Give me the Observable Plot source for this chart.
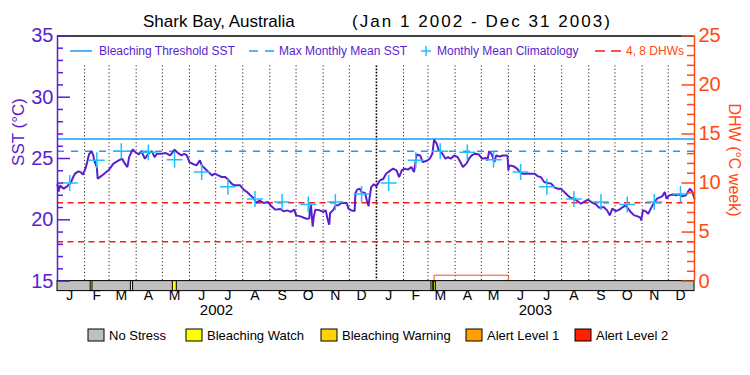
<!DOCTYPE html>
<html><head><meta charset="utf-8">
<script src="https://cdn.jsdelivr.net/npm/d3@7"></script>
<script src="https://cdn.jsdelivr.net/npm/@observablehq/plot@0.6"></script>
<style>body{margin:0;background:#fff} svg{display:block}</style>
</head><body><div id="chart"></div>
<script>
// ---------------- data ----------------
const titleText = "Shark Bay, Australia";
const periodText = "(Jan 1 2002 - Dec 31 2003)";
const sstAxisLabel = "SST (°C)";
const dhwAxisLabel = "DHW (°C week)";
const monthLetters = ["J","F","M","A","M","J","J","A","S","O","N","D"];
const years = ["2002", "2003"];
const climatology = [23.0, 24.85, 25.6, 25.5, 24.9, 23.9, 22.7, 21.7, 21.45, 21.25, 21.45, 22.1];
const bleachingThreshold = 26.6;
const maxMonthlyMean = 25.6;
const dhwLevels = [4, 8];
const sstTickValues = [15, 20, 25, 30, 35];
const dhwTickValues = [0, 5, 10, 15, 20, 25];
// SST series: day offset from Jan 1 2002, value in °C
const sstDay = [0,1,3,7,11,15,18,20,24,27,29,32,34,36,39,41,42,45,46,51,59,64,70,74,76,80,82,86,89,93,96,100,104,108,111,114,119,124,129,134,138,142,145,148,151,156,159,163,165,169,173,177,180,184,188,192,196,200,203,209,213,217,221,224,228,231,236,241,245,249,255,259,263,267,271,273,278,282,285,288,290,292,293,295,300,304,307,309,311,312,316,318,321,325,331,333,336,340,341,343,346,348,352,354,356,357,359,362,365,369,373,376,380,384,388,391,394,397,401,405,408,411,415,418,422,426,429,431,434,436,439,441,444,447,450,454,458,461,464,468,471,474,478,482,486,490,492,494,497,500,502,506,510,515,516,517,522,526,529,532,538,546,550,553,557,561,565,569,572,576,580,584,587,591,595,599,602,607,611,616,620,625,629,632,635,639,643,647,650,653,656,660,664,667,668,670,673,676,679,682,686,690,692,695,697,700,704,708,711,715,719,722,724,727,729];
const sstValue = [22.9,22.3,22.8,22.54,22.73,23.0,23.49,23.76,23.95,23.87,23.68,24.17,24.71,25.33,25.6,25.25,24.85,24.3,23.35,23.62,24.09,24.58,24.85,24.98,24.71,24.3,25.11,25.74,25.52,25.33,25.6,24.98,25.39,25.6,25.11,25.39,25.39,25.44,25.25,25.72,25.44,25.25,25.39,25.25,24.71,24.52,24.44,24.85,24.44,24.17,23.89,23.62,23.76,23.62,23.49,23.49,23.22,22.9,22.81,22.81,22.46,22.26,21.99,21.8,21.37,21.58,21.37,21.45,21.1,20.83,20.88,20.69,20.77,20.64,20.83,20.36,20.28,20.17,20.09,20.1,21.3,19.45,20.1,20.83,20.77,20.64,20.77,20.09,19.6,20.55,20.83,21.18,21.18,21.37,21.37,20.91,20.77,20.71,22.18,22.46,22.54,22.26,22.18,21.58,21.1,21.72,22.67,22.9,22.73,23.22,23.35,23.76,23.97,24.17,24.03,23.49,24.03,24.17,24.09,24.3,23.89,25.33,25.25,24.71,24.79,24.98,25.39,26.53,26.2,25.72,25.52,25.33,24.98,25.11,24.98,25.25,25.11,24.71,24.3,24.58,24.98,25.25,25.39,25.33,24.98,25.05,24.85,25.6,25.33,24.71,25.25,25.17,25.25,25.25,24.03,24.44,24.36,24.17,23.89,23.76,23.76,23.76,23.54,23.49,23.08,23.0,22.95,22.62,22.54,22.54,22.26,21.99,21.8,21.72,21.53,21.31,21.45,21.64,21.45,21.26,20.99,21.04,20.77,20.36,20.91,20.71,20.83,21.04,21.18,20.91,20.64,20.36,20.28,20.17,19.95,20.77,20.71,20.5,20.91,21.31,21.72,21.85,21.91,22.26,21.72,21.99,22.07,21.99,22.07,21.91,21.99,22.34,22.54,22.18,21.72];
// Degree heating weeks
const dhwDay = [0, 431, 516, 729];
const dhwValue = [0, 0.6, 0, 0];
// Bleaching watch periods (day offsets)
const watchStart = [38, 84, 132, 428, 431];
const watchEnd = [40, 86.5, 136.5, 430, 433];
const topLegendLabels = ["Bleaching Threshold SST", "Max Monthly Mean SST", "Monthly Mean Climatology", "4, 8 DHWs"];
const stressLabels = ["No Stress", "Bleaching Watch", "Bleaching Warning", "Alert Level 1", "Alert Level 2"];

// ---------------- styles ----------------
const FONT = "'Liberation Sans', Arial, sans-serif";
const PURPLE = "#5a1ecf";
const ORANGE = "#ff4a14";
const BLUE = "#1a9cff";
const CYAN = "#1cc0ff";
const RED = "#ff1a1a";
const stressColors = ["#c0c0c0", "#ffff00", "#ffd200", "#ffa000", "#ff2000"];

// ---------------- helpers ----------------
const t0 = Date.UTC(2002, 0, 1);
const dayDate = d => new Date(t0 + d * 864e5);
const toY = dhw => 15 + dhw * (35 - 15) / 25;   // DHW axis (0..25) onto SST axis (15..35)

const sst = sstDay.map((d, i) => ({date: dayDate(d), value: sstValue[i]}));
const dhw = dhwDay.map((d, i) => ({date: dayDate(d), value: dhwValue[i]}));
const clim = years.flatMap((y, yi) => climatology.map((v, m) => ({date: new Date(Date.UTC(2002 + yi, m, 15)), value: v})));
const monthMids = years.flatMap((y, yi) => monthLetters.map((l, m) => ({date: new Date(Date.UTC(2002 + yi, m, 15)), label: l})));
const yearMids = years.map((y, yi) => ({date: new Date(Date.UTC(2002 + yi, 6, 2)), label: y}));
const monthStarts = d3.utcMonth.range(dayDate(1), dayDate(729));
const yearStarts = monthStarts.filter(d => d.getUTCMonth() === 0);
const otherStarts = monthStarts.filter(d => d.getUTCMonth() !== 0);
const watches = watchStart.map((s, i) => ({x1: dayDate(s), x2: dayDate(watchEnd[i])}));
const sstMinor = d3.range(15, 36).filter(v => !sstTickValues.includes(v));
const dhwMinor = d3.range(0, 26).filter(v => !dhwTickValues.includes(v));

const W = 750, H = 375, mL = 57, mR = 56, mT = 35.4, mB = 94.4;
const fw = W - mL - mR, fh = H - mT - mB;

const plot = Plot.plot({
  width: W, height: H,
  marginLeft: mL, marginRight: mR, marginTop: mT, marginBottom: mB,
  style: {fontFamily: FONT, background: "#fff", overflow: "visible", color: "#000"},
  x: {type: "utc", domain: [dayDate(0), dayDate(729)], axis: null},
  y: {domain: [15, 35], axis: null},
  marks: [
    Plot.ruleX(otherStarts, {x: d => d, stroke: "#000", strokeWidth: 1, strokeDasharray: "1,2.5", insetTop: 30}),
    Plot.ruleX(yearStarts, {x: d => d, stroke: "#000", strokeWidth: 1.6, strokeDasharray: "1.6,1.6", insetTop: 30}),
    Plot.ruleY([bleachingThreshold], {y: d => d, stroke: BLUE, strokeWidth: 1.5}),
    Plot.ruleY([maxMonthlyMean], {y: d => d, stroke: BLUE, strokeWidth: 1.5, strokeDasharray: "7,7"}),
    Plot.ruleY(dhwLevels, {y: d => toY(d), stroke: RED, strokeWidth: 1.5, strokeDasharray: "6,4.5"}),
    Plot.line(dhw, {x: "date", y: d => toY(d.value), curve: "step-after", stroke: ORANGE, strokeWidth: 1}),
    Plot.line(sst, {x: "date", y: "value", stroke: PURPLE, strokeWidth: 2, strokeLinejoin: "miter"}),
    Plot.dot(clim, {x: "date", y: "value", symbol: "plus", r: 5.2, stroke: CYAN, strokeWidth: 1.5}),
    Plot.rect([{x1: dayDate(0), x2: dayDate(729)}], {x1: "x1", x2: "x2", fill: stressColors[0], stroke: "#000", strokeWidth: 1, insetTop: fh, insetBottom: -10}),
    Plot.rect(watches, {x1: "x1", x2: "x2", fill: stressColors[1], stroke: "#000", strokeWidth: 1, insetTop: fh, insetBottom: -10}),
    Plot.ruleY([35], {y: d => d, stroke: "#000", strokeWidth: 1.5}),
    Plot.ruleX([dayDate(0)], {x: d => d, stroke: PURPLE, strokeWidth: 1.5}),
    Plot.ruleX([dayDate(729)], {x: d => d, stroke: ORANGE, strokeWidth: 1.5}),
    Plot.tickY(sstMinor, {y: d => d, stroke: PURPLE, strokeWidth: 1.5, insetRight: fw - 6}),
    Plot.tickY(sstTickValues, {y: d => d, stroke: PURPLE, strokeWidth: 1.5, insetRight: fw - 13}),
    Plot.tickY(dhwMinor, {y: d => toY(d), stroke: ORANGE, strokeWidth: 1.5, insetLeft: fw - 7}),
    Plot.tickY(dhwTickValues, {y: d => toY(d), stroke: ORANGE, strokeWidth: 1.5, insetLeft: fw - 12.5}),
    Plot.text(sstTickValues, {y: d => d, text: d => String(d), frameAnchor: "left", dx: -4, textAnchor: "end", fontSize: 20, fill: PURPLE}),
    Plot.text(dhwTickValues, {y: d => toY(d), text: d => String(d), frameAnchor: "right", dx: 4, textAnchor: "start", fontSize: 20, fill: ORANGE}),
    Plot.text(monthMids, {x: "date", text: "label", frameAnchor: "bottom", dy: 18.5, fontSize: 14, fill: "#000"}),
    Plot.text(yearMids, {x: "date", text: "label", frameAnchor: "bottom", dy: 34, fontSize: 15, fill: "#000"})
  ]
});
document.getElementById("chart").append(plot);

// ---------------- titles & legends ----------------
const svg = d3.select(plot);
const tt = svg.append("g").attr("font-family", FONT).attr("font-size", 17).attr("text-anchor", "start").attr("fill", "#000");
tt.append("text").attr("x", 143).attr("y", 21).attr("dy", "0.35em").text(titleText);
tt.append("text").attr("x", 352).attr("y", 21).attr("dy", "0.35em").attr("letter-spacing", 2).attr("textLength", 260).text(periodText);

const at = svg.append("g").attr("font-family", FONT).attr("text-anchor", "middle");
at.append("text").attr("transform", "translate(18,132) rotate(-90)").attr("dy", "0.35em")
  .attr("font-size", 17).attr("fill", PURPLE).text(sstAxisLabel);
at.append("text").attr("transform", "translate(735,160) rotate(90)").attr("dy", "0.35em")
  .attr("font-size", 16).attr("fill", ORANGE).text(dhwAxisLabel);

const tl = svg.append("g").attr("font-family", FONT).attr("font-size", 12).attr("text-anchor", "start");
const ly = 51;
const seg = (g, x1, x2, y, color, w) => g.append("line").attr("x1", x1).attr("x2", x2).attr("y1", y).attr("y2", y).attr("stroke", color).attr("stroke-width", w);
const txt = (g, x, y, s, color) => g.append("text").attr("x", x).attr("y", y).attr("dy", "0.35em").attr("fill", color).text(s);
seg(tl, 70, 92, ly, BLUE, 1.5);
txt(tl, 99, ly, topLegendLabels[0], PURPLE);
seg(tl, 249, 258, ly, BLUE, 1.5); seg(tl, 265, 274, ly, BLUE, 1.5);
txt(tl, 279, ly, topLegendLabels[1], PURPLE);
seg(tl, 421, 431, ly, CYAN, 1.5);
tl.append("line").attr("x1", 426).attr("x2", 426).attr("y1", ly - 5).attr("y2", ly + 5).attr("stroke", CYAN).attr("stroke-width", 1.5);
txt(tl, 437, ly, topLegendLabels[2], PURPLE);
seg(tl, 595, 605, ly, RED, 1.5); seg(tl, 611, 621, ly, RED, 1.5);
txt(tl, 626, ly, topLegendLabels[3], ORANGE);

const bl = svg.append("g").attr("font-family", FONT).attr("font-size", 13).attr("text-anchor", "start");
const boxX = [88, 186, 321, 466, 575];
const by = 335;
stressLabels.forEach((s, i) => {
  bl.append("rect").attr("x", boxX[i]).attr("y", by - 6).attr("width", 16).attr("height", 12)
    .attr("fill", stressColors[i]).attr("stroke", "#000").attr("stroke-width", 1);
  txt(bl, boxX[i] + 21, by, s, "#000");
});
</script>
</body></html>
